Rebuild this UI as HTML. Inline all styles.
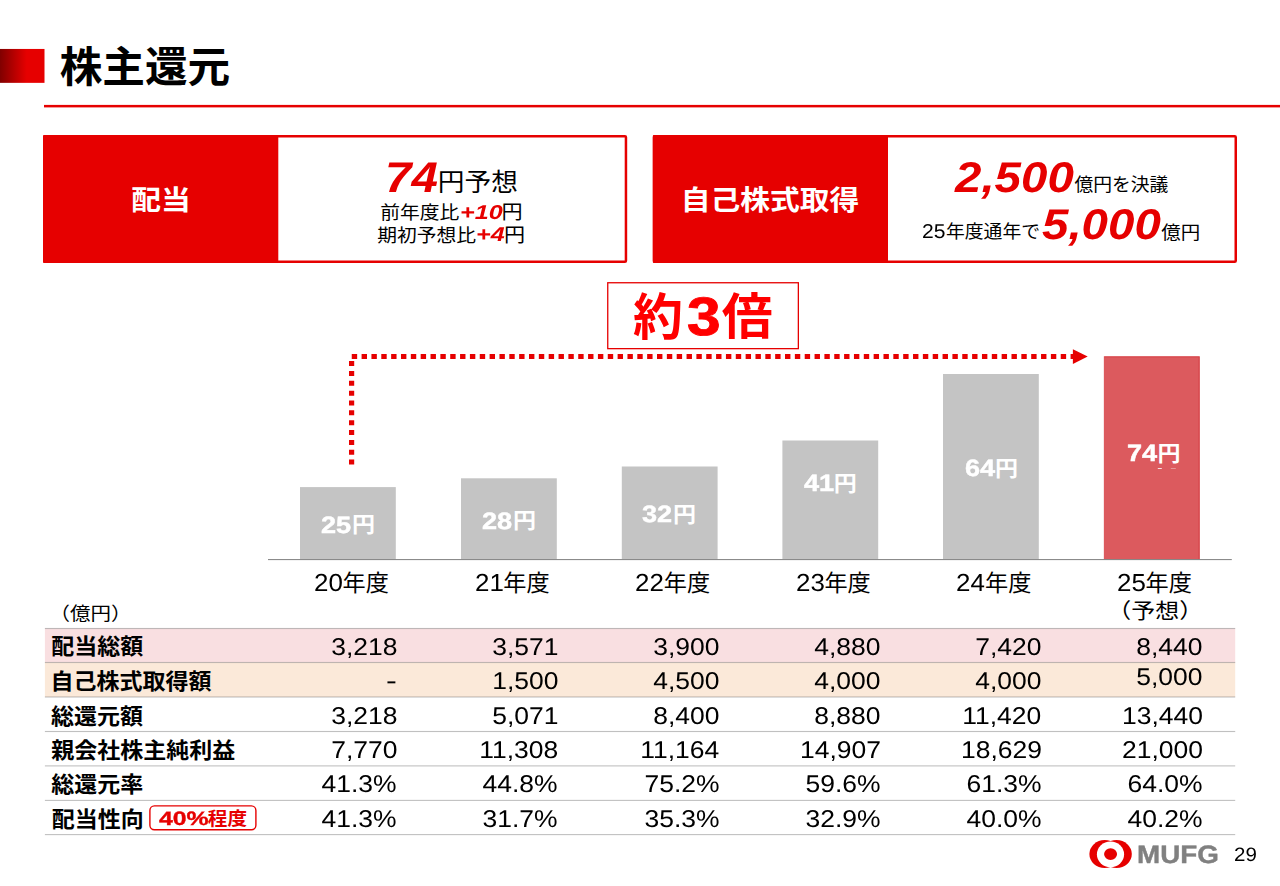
<!DOCTYPE html>
<html lang="ja"><head><meta charset="utf-8"><title>株主還元</title><style>
html,body{margin:0;padding:0;background:#fff}
body{width:1280px;height:886px;position:relative;overflow:hidden;font-family:"Liberation Sans",sans-serif;color:#000}
svg{position:absolute;left:0;top:0}
svg text{font-family:"Liberation Sans","Noto Sans CJK JP",sans-serif}
.tl{position:absolute;left:0;top:0;width:1280px;height:886px;will-change:transform}
.t{position:absolute;white-space:nowrap;line-height:1;transform-origin:0 0;text-rendering:geometricPrecision}
.t.r{transform-origin:100% 0}
.BIG{font-size:42.90px;transform:scaleX(1.1070);font-weight:bold;font-style:italic;color:#e60000}
.RI{font-size:19.90px;transform:scaleX(1.2630);font-weight:bold;font-style:italic;color:#e60000}
.D14{font-size:20.00px;transform:scaleX(1.0550);}
.YD{font-size:54.20px;transform:scaleX(1.1160);font-weight:bold;color:#ff0000;-webkit-text-stroke:.9px #ff0000}
.BVD{font-size:23.60px;transform:scaleX(1.1500);font-weight:bold;color:#fff;-webkit-text-stroke:.45px #fff}
.YRD{font-size:24.60px;transform:scaleX(1.0550);}
.NUM{font-size:24.20px;transform:scaleX(1.0950);}
.BGD{font-size:19.40px;transform:scaleX(1.2800);font-weight:bold;color:#e60000;-webkit-text-stroke:.35px #e60000}
.MUFG{font-size:25.30px;transform:scaleX(1.1000);font-weight:bold;color:#808080;-webkit-text-stroke:.4px #808080}
.PG{font-size:19.40px;transform:scaleX(1.0600);}
.DASH{font-size:25.00px;transform:scaleX(1.3000);}
</style></head><body>
<svg width="1280" height="886" viewBox="0 0 1280 886">
<defs><linearGradient id="tg" x1="0" y1="0" x2="1" y2="0"><stop offset="0" stop-color="#800000"/><stop offset="0.6" stop-color="#e60000"/><stop offset="1" stop-color="#e60000"/></linearGradient></defs>
<rect x="0" y="48.95" width="44.5" height="33.9" fill="url(#tg)"/>
<rect x="44" y="104.9" width="1236" height="2.5" fill="#e60000"/>
<rect x="44.25" y="136.25" width="581.7" height="125.5" rx="1" fill="#fff" stroke="#e60000" stroke-width="2.5"/>
<rect x="43" y="135" width="235.3" height="128" rx="1" fill="#e60000"/>
<rect x="654.05" y="136.25" width="581.7" height="125.5" rx="1" fill="#fff" stroke="#e60000" stroke-width="2.5"/>
<rect x="652.8" y="135" width="235.2" height="128" rx="1" fill="#e60000"/>
<rect x="607.75" y="282.75" width="190.6" height="65.9" fill="#fff" stroke="#e60000" stroke-width="1.3"/>
<path d="M351.6 361.1V464.6" stroke="#e60000" stroke-width="5.2" stroke-dasharray="5 4.847" fill="none"/>
<path d="M351.75 356.55H1074" stroke="#e60000" stroke-width="4.9" stroke-dasharray="5.4 4.447" fill="none"/>
<path d="M1072.9 349.2L1087.7 356.55L1072.9 363.9Z" fill="#e60000"/>
<rect x="300.0" y="487.1" width="95.8" height="72.2" fill="#c4c4c4"/>
<rect x="461.0" y="478.3" width="95.8" height="81.0" fill="#c4c4c4"/>
<rect x="621.8" y="466.5" width="95.8" height="92.8" fill="#c4c4c4"/>
<rect x="782.4" y="440.5" width="95.8" height="118.8" fill="#c4c4c4"/>
<rect x="943.0" y="374.0" width="95.8" height="185.3" fill="#c4c4c4"/>
<rect x="1103.85" y="356.3" width="95.8" height="203.0" fill="#dc5a5e"/>
<path d="M1104.35 357H1199.05V559" fill="none" stroke="#d8464a" stroke-width="1.2"/>
<rect x="268" y="559.1" width="963.8" height="1" fill="#7f7f7f"/>
<rect x="44.9" y="628.5" width="1190.3" height="34.0" fill="#f9dfe1"/>
<rect x="44.9" y="662.5" width="1190.3" height="34.5" fill="#fbe9d9"/>
<rect x="44.9" y="627.95" width="1190.3" height="1.1" fill="#5a5a5a" fill-opacity=".38"/>
<rect x="44.9" y="661.95" width="1190.3" height="1.1" fill="#5a5a5a" fill-opacity=".38"/>
<rect x="44.9" y="696.45" width="1190.3" height="1.1" fill="#5a5a5a" fill-opacity=".38"/>
<rect x="44.9" y="730.95" width="1190.3" height="1.1" fill="#5a5a5a" fill-opacity=".38"/>
<rect x="44.9" y="765.35" width="1190.3" height="1.1" fill="#5a5a5a" fill-opacity=".38"/>
<rect x="44.9" y="799.85" width="1190.3" height="1.1" fill="#5a5a5a" fill-opacity=".38"/>
<rect x="44.9" y="834.05" width="1190.3" height="1.1" fill="#5a5a5a" fill-opacity=".38"/>
<rect x="149.9" y="805.9" width="106" height="23.9" rx="4.5" fill="#fff" stroke="#e60000" stroke-width="1.4"/>
<g fill="#e60000"><ellipse cx="1104.67" cy="854.1" rx="15.27" ry="14"/><ellipse cx="1116.53" cy="854.1" rx="15.27" ry="14"/></g><ellipse cx="1110.5" cy="854.3" rx="13.6" ry="12.9" fill="#fff"/><ellipse cx="1110.57" cy="854.1" rx="6.5" ry="5.9" fill="#e60000"/>
<rect x="1157.8" y="468" width="4" height="1" fill="#fff" opacity=".8"/><rect x="1170.8" y="468" width="5" height="1" fill="#fff" opacity=".35"/>
<text x="59.66" y="81.98" font-size="42.27" font-weight="bold" fill="#000" textLength="170.64" lengthAdjust="spacingAndGlyphs">株主還元</text>
<text x="131.33" y="210.22" font-size="27.52" font-weight="bold" fill="#fff" textLength="59.5" lengthAdjust="spacingAndGlyphs">配当</text>
<text x="680.66" y="210.09" font-size="27.52" font-weight="bold" fill="#fff" textLength="178.5" lengthAdjust="spacingAndGlyphs">自己株式取得</text>
<text x="437.80" y="191.00" font-size="24.70" fill="#000" textLength="80.16" lengthAdjust="spacingAndGlyphs">円予想</text>
<text x="380.17" y="218.59" font-size="18.72" fill="#000" textLength="79.08" lengthAdjust="spacingAndGlyphs">前年度比</text>
<text x="501.52" y="218.57" font-size="19.31" fill="#000" textLength="21.13" lengthAdjust="spacingAndGlyphs">円</text>
<text x="377.16" y="241.85" font-size="18.72" fill="#000" textLength="98.85" lengthAdjust="spacingAndGlyphs">期初予想比</text>
<text x="503.97" y="241.85" font-size="19.31" fill="#000" textLength="21.13" lengthAdjust="spacingAndGlyphs">円</text>
<text x="1074.41" y="190.90" font-size="18.30" fill="#000" textLength="94" lengthAdjust="spacingAndGlyphs">億円を決議</text>
<text x="945.92" y="238.12" font-size="18.30" fill="#000" textLength="94.2" lengthAdjust="spacingAndGlyphs">年度通年で</text>
<text x="1161.19" y="238.79" font-size="18.30" fill="#000" textLength="38.92" lengthAdjust="spacingAndGlyphs">億円</text>
<text x="633.10" y="334.74" font-size="49.64" font-weight="bold" fill="#ff0000" textLength="49.9" lengthAdjust="spacingAndGlyphs">約</text>
<text x="721.75" y="334.22" font-size="48.34" font-weight="bold" fill="#ff0000" textLength="50.96" lengthAdjust="spacingAndGlyphs">倍</text>
<text x="351.93" y="532.37" font-size="21.13" font-weight="bold" fill="#fff" textLength="23.05" lengthAdjust="spacingAndGlyphs">円</text>
<text x="512.93" y="528.12" font-size="21.13" font-weight="bold" fill="#fff" textLength="23.05" lengthAdjust="spacingAndGlyphs">円</text>
<text x="672.93" y="521.87" font-size="21.13" font-weight="bold" fill="#fff" textLength="23.05" lengthAdjust="spacingAndGlyphs">円</text>
<text x="833.83" y="490.77" font-size="21.13" font-weight="bold" fill="#fff" textLength="23.05" lengthAdjust="spacingAndGlyphs">円</text>
<text x="995.03" y="476.07" font-size="21.13" font-weight="bold" fill="#fff" textLength="23.05" lengthAdjust="spacingAndGlyphs">円</text>
<text x="1157.53" y="461.17" font-size="21.13" font-weight="bold" fill="#fff" textLength="23.05" lengthAdjust="spacingAndGlyphs">円</text>
<text x="342.64" y="590.83" font-size="22.79" fill="#000" textLength="46.36" lengthAdjust="spacingAndGlyphs">年度</text>
<text x="503.24" y="590.83" font-size="22.79" fill="#000" textLength="46.36" lengthAdjust="spacingAndGlyphs">年度</text>
<text x="663.84" y="590.83" font-size="22.79" fill="#000" textLength="46.36" lengthAdjust="spacingAndGlyphs">年度</text>
<text x="824.44" y="590.83" font-size="22.79" fill="#000" textLength="46.36" lengthAdjust="spacingAndGlyphs">年度</text>
<text x="985.04" y="590.83" font-size="22.79" fill="#000" textLength="46.36" lengthAdjust="spacingAndGlyphs">年度</text>
<text x="1145.64" y="590.83" font-size="22.79" fill="#000" textLength="46.36" lengthAdjust="spacingAndGlyphs">年度</text>
<text x="1107.36" y="617.98" font-size="21.01" fill="#000" textLength="95.8" lengthAdjust="spacingAndGlyphs">（予想）</text>
<text x="49.50" y="620.14" font-size="18.38" fill="#000" textLength="82" lengthAdjust="spacingAndGlyphs">（億円）</text>
<text x="51.26" y="654.16" font-size="21.61" font-weight="bold" fill="#000" textLength="92" lengthAdjust="spacingAndGlyphs">配当総額</text>
<text x="50.54" y="688.52" font-size="21.61" font-weight="bold" fill="#000" textLength="161" lengthAdjust="spacingAndGlyphs">自己株式取得額</text>
<text x="51.13" y="723.51" font-size="21.61" font-weight="bold" fill="#000" textLength="92" lengthAdjust="spacingAndGlyphs">総還元額</text>
<text x="51.23" y="758.05" font-size="21.61" font-weight="bold" fill="#000" textLength="184" lengthAdjust="spacingAndGlyphs">親会社株主純利益</text>
<text x="51.35" y="792.21" font-size="21.61" font-weight="bold" fill="#000" textLength="92" lengthAdjust="spacingAndGlyphs">総還元率</text>
<text x="51.67" y="826.63" font-size="21.61" font-weight="bold" fill="#000" textLength="92" lengthAdjust="spacingAndGlyphs">配当性向</text>
<text x="207.84" y="825.27" font-size="18.41" font-weight="bold" fill="#e60000" textLength="39.18" lengthAdjust="spacingAndGlyphs">程度</text>
</svg>
<div class="tl">
<div id="l1a" class="t BIG" style="left:384.81px;top:156.90px">74</div>
<div id="l2r" class="t RI" style="left:459.63px;top:204.12px">+10</div>
<div id="l3r" class="t RI" style="left:476.42px;top:225.66px">+4</div>
<div id="r1a" class="t BIG" style="left:955.28px;top:156.95px">2,500</div>
<div id="r2a1" class="t D14" style="left:922.13px;top:222.20px">25</div>
<div id="r2b" class="t BIG" style="left:1042.00px;top:204.45px">5,000</div>
<div id="yk2" class="t YD" style="left:687.02px;top:290.13px">3</div>
<div id="bv0d" class="t BVD" style="left:321.08px;top:515.04px">25</div>
<div id="bv1d" class="t BVD" style="left:482.08px;top:510.87px">28</div>
<div id="bv2d" class="t BVD" style="left:641.90px;top:504.24px">32</div>
<div id="bv3d" class="t BVD" style="left:804.17px;top:472.50px">41</div>
<div id="bv4d" class="t BVD" style="left:964.59px;top:457.90px">64</div>
<div id="bv5d" class="t BVD" style="left:1126.68px;top:443.45px">74</div>
<div id="yr0d" class="t YRD" style="left:314.25px;top:571.97px">20</div>
<div id="yr1d" class="t YRD" style="left:475.25px;top:571.97px">21</div>
<div id="yr2d" class="t YRD" style="left:635.13px;top:571.97px">22</div>
<div id="yr3d" class="t YRD" style="left:796.25px;top:571.97px">23</div>
<div id="yr4d" class="t YRD" style="left:956.33px;top:571.97px">24</div>
<div id="yr5d" class="t YRD" style="left:1117.25px;top:571.97px">25</div>
<div id="n00" class="t NUM r" style="right:882.98px;top:635.88px">3,218</div>
<div id="n01" class="t NUM r" style="right:721.93px;top:635.88px">3,571</div>
<div id="n02" class="t NUM r" style="right:560.39px;top:635.88px">3,900</div>
<div id="n03" class="t NUM r" style="right:399.37px;top:635.88px">4,880</div>
<div id="n04" class="t NUM r" style="right:238.50px;top:635.88px">7,420</div>
<div id="n05" class="t NUM r" style="right:77.15px;top:635.88px">8,440</div>
<div id="n10" class="t DASH" style="left:385.98px;top:669.13px">-</div>
<div id="n11" class="t NUM r" style="right:721.93px;top:669.85px">1,500</div>
<div id="n12" class="t NUM r" style="right:560.39px;top:669.85px">4,500</div>
<div id="n13" class="t NUM r" style="right:399.37px;top:669.85px">4,000</div>
<div id="n14" class="t NUM r" style="right:238.50px;top:669.85px">4,000</div>
<div id="n15" class="t NUM r" style="right:77.15px;top:665.85px">5,000</div>
<div id="n20" class="t NUM r" style="right:882.98px;top:704.82px">3,218</div>
<div id="n21" class="t NUM r" style="right:721.93px;top:704.82px">5,071</div>
<div id="n22" class="t NUM r" style="right:560.39px;top:704.82px">8,400</div>
<div id="n23" class="t NUM r" style="right:399.37px;top:704.82px">8,880</div>
<div id="n24" class="t NUM r" style="right:238.50px;top:704.82px">11,420</div>
<div id="n25" class="t NUM r" style="right:77.15px;top:704.82px">13,440</div>
<div id="n30" class="t NUM r" style="right:882.98px;top:739.40px">7,770</div>
<div id="n31" class="t NUM r" style="right:721.93px;top:739.40px">11,308</div>
<div id="n32" class="t NUM r" style="right:560.39px;top:739.40px">11,164</div>
<div id="n33" class="t NUM r" style="right:399.37px;top:739.40px">14,907</div>
<div id="n34" class="t NUM r" style="right:238.50px;top:739.40px">18,629</div>
<div id="n35" class="t NUM r" style="right:77.15px;top:739.40px">21,000</div>
<div id="n40" class="t NUM r" style="right:882.98px;top:772.84px">41.3%</div>
<div id="n41" class="t NUM r" style="right:721.93px;top:772.84px">44.8%</div>
<div id="n42" class="t NUM r" style="right:560.39px;top:772.84px">75.2%</div>
<div id="n43" class="t NUM r" style="right:399.37px;top:772.84px">59.6%</div>
<div id="n44" class="t NUM r" style="right:238.50px;top:772.84px">61.3%</div>
<div id="n45" class="t NUM r" style="right:77.15px;top:772.84px">64.0%</div>
<div id="n50" class="t NUM r" style="right:882.98px;top:807.67px">41.3%</div>
<div id="n51" class="t NUM r" style="right:721.93px;top:807.67px">31.7%</div>
<div id="n52" class="t NUM r" style="right:560.39px;top:807.67px">35.3%</div>
<div id="n53" class="t NUM r" style="right:399.37px;top:807.67px">32.9%</div>
<div id="n54" class="t NUM r" style="right:238.50px;top:807.67px">40.0%</div>
<div id="n55" class="t NUM r" style="right:77.15px;top:807.67px">40.2%</div>
<div id="bgd" class="t BGD" style="left:159.08px;top:809.99px">40%</div>
<div id="mufg" class="t MUFG" style="left:1136.70px;top:842.81px">MUFG</div>
<div id="pg" class="t PG" style="left:1234.04px;top:846.32px">29</div>
</div>
</body></html>
